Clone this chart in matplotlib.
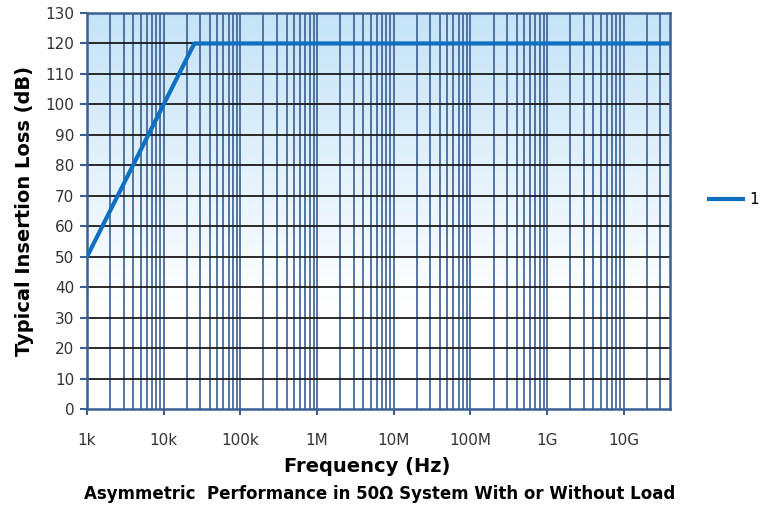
import matplotlib
matplotlib.use('Agg')
import matplotlib.pyplot as plt
import numpy as np

# data
freq = [1e3, 25.1e3, 4e10]
loss = [50, 120, 120]
xticks = [1e3, 1e4, 1e5, 1e6, 1e7, 1e8, 1e9, 1e10]
xlabels = ['1k', '10k', '100k', '1M', '10M', '100M', '1G', '10G']
yticks = list(range(0, 131, 10))

W, H = 761, 509
fig = plt.figure(figsize=(W / 100, H / 100), dpi=100)
ax = fig.add_axes([87 / W, 1 - 409 / H, (670 - 87) / W, (409 - 13) / H])

# gradient background
grad = np.linspace(0, 1, 256).reshape(-1, 1)
top = np.array([0.77, 0.89, 0.97])
bot = np.array([1.0, 1.0, 1.0])
t = np.clip(grad / 0.75, 0, 1)
img = top * (1 - t)[..., None] + bot * t[..., None]
img = img.reshape(256, 1, 3)
ax.imshow(img, extent=[0, 1, 0, 1], transform=ax.transAxes, aspect='auto', zorder=0)

ax.set_xscale('log')
ax.set_xlim(1e3, 4e10)
ax.set_ylim(0, 130)

gridblue = '#3a5f95'
# vertical grid (major+minor)
for dec in range(3, 11):
    for m in range(1, 10):
        f = m * 10 ** dec
        if 1e3 < f < 4e10:
            ax.axvline(f, color=gridblue, lw=1.2, zorder=1)
for y in yticks[1:-1]:
    ax.axhline(y, color='#1a1a1a', lw=1.3, zorder=1)

ax.plot(freq, loss, color='#0f6fc0', lw=3, zorder=3, label='1', solid_capstyle='butt')

ax.set_xticks(xticks)
ax.set_xticklabels(xlabels)
ax.xaxis.set_minor_locator(matplotlib.ticker.NullLocator())
ax.set_yticks(yticks)
ax.tick_params(axis='x', direction='out', length=4, width=1.5, color=gridblue,
               pad=13, labelsize=11, labelcolor='#333333')
ax.tick_params(axis='y', direction='out', length=5, width=1.5, color=gridblue,
               pad=4, labelsize=11, labelcolor='#333333')
for s in ax.spines.values():
    s.set_color(gridblue)
    s.set_linewidth(1.8)

ax.set_ylabel('Typical Insertion Loss (dB)', fontsize=14, fontweight='bold', labelpad=8)
fig.text(367 / W, 1 - 467 / H, 'Frequency (Hz)', fontsize=14, fontweight='bold',
         ha='center', va='center')
fig.text(380 / W, 1 - 494 / H, 'Asymmetric  Performance in 50\u03a9 System With or Without Load',
         fontsize=12, fontweight='bold', ha='center', va='center')

fig.legend(loc='center left', bbox_to_anchor=(707 / W, 1 - 200 / H), frameon=False,
           borderpad=0, borderaxespad=0, handlelength=2.5, handletextpad=0.25,
           fontsize=11)

plt.savefig('out.png', dpi=100)
